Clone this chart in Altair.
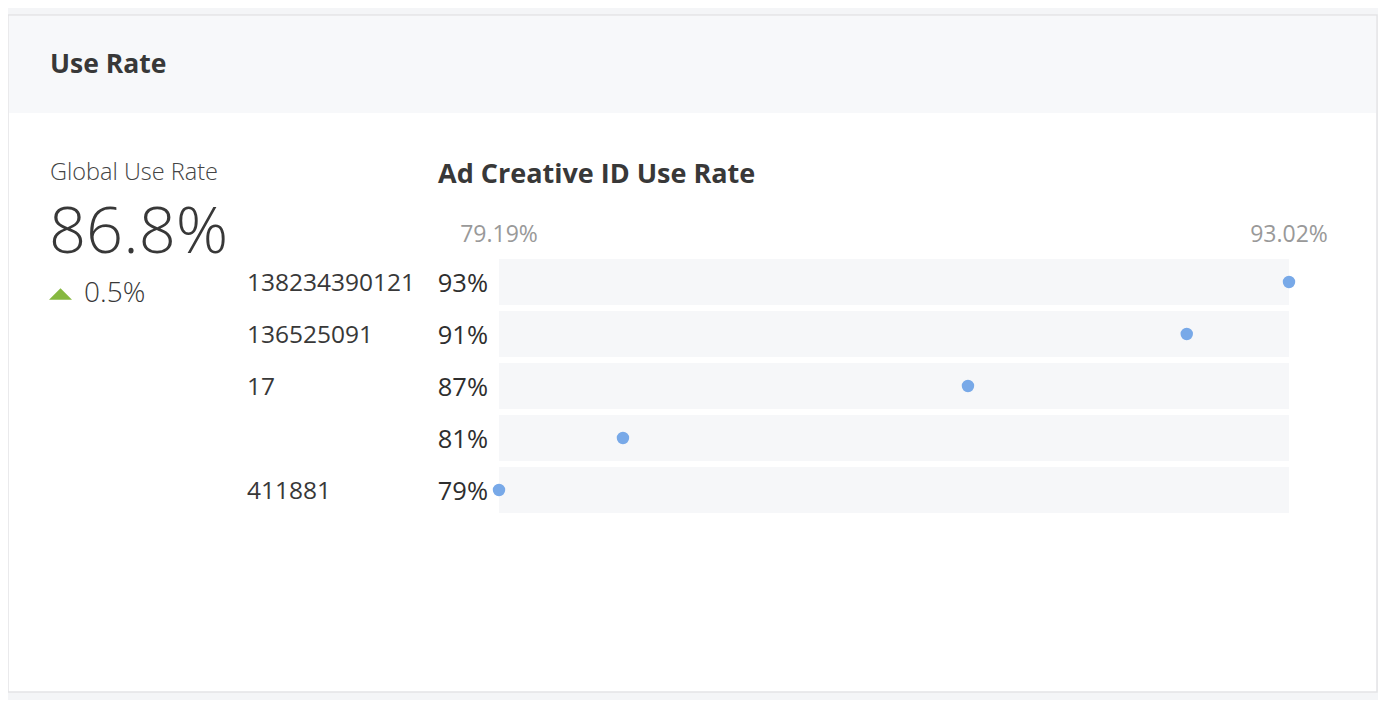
import altair as alt
import pandas as pd

# ---- data ----
ids = ["138234390121", "136525091", "17", "", "411881"]
use_rates = [93.02, 91.23, 87.40, 81.36, 79.19]
card_title = ["Use Rate"]
global_label = ["Global Use Rate"]
global_value = ["86.8%"]
global_change = ["0.5%"]
chart_title = ["Ad Creative ID Use Rate"]

FONT = "Open Sans"
TXT = "#383838"

df = pd.DataFrame({"id": ids, "value": use_rates, "rank": list(range(len(ids)))})
ext = pd.DataFrame({"value": [min(use_rates), max(use_rates)]})

xs = alt.Scale(zero=False, nice=False)
ys = alt.Scale(paddingInner=6 / 52, paddingOuter=0)

one = pd.DataFrame({"k": [0]})

card = alt.Chart(one).mark_rect(fill="white", stroke="#e3e4e6", strokeWidth=1.5).encode(
    x=alt.value(-491), x2=alt.value(878), y=alt.value(-244), y2=alt.value(433)
)
header = alt.Chart(one).mark_rect(fill="#f7f8fa").encode(
    x=alt.value(-490), x2=alt.value(877), y=alt.value(-243), y2=alt.value(-146)
)

def label(values, x, y, size, weight="normal", color=TXT, align="left", baseline="alphabetic"):
    return alt.Chart(pd.DataFrame({"t": values})).mark_text(
        font=FONT, fontSize=size, fontWeight=weight, color=color, align=align, baseline=baseline
    ).encode(text="t:N", x=alt.value(x), y=alt.value(y))

t_title = label(card_title, -449, -186, 26.5, "bold")
t_glabel = label(global_label, -449, -79, 23.5, 300, "#444444")
t_gvalue = label(global_value, -450, -6, 65, 300)
t_gchange = label(global_change, -415, 43, 28, 300)
t_ctitle = label(chart_title, -61, -76, 27, "bold")

tri = alt.Chart(one).mark_point(
    shape="M-1,0.5L1,0.5L0,-0.5Z", filled=True, color="#86b840", opacity=1, size=529
).encode(x=alt.value(-438.5), y=alt.value(35))

bars = alt.Chart(df).mark_bar(color="#f6f7f9").encode(
    y=alt.Y("rank:O", scale=ys, axis=None),
    x=alt.value(0), x2=alt.value(790),
)

id_text = alt.Chart(df).mark_text(
    font=FONT, fontSize=24.5, color=TXT, align="left", baseline="middle", dy=2
).encode(y=alt.Y("rank:O", scale=ys, axis=None), x=alt.value(-252), text="id:N")

pct_text = alt.Chart(df).transform_calculate(
    lbl="format(datum.value, '.0f') + '%'"
).mark_text(
    font=FONT, fontSize=25.5, fontWeight=500, color="#2e2e2e", align="right", baseline="middle", dy=2
).encode(y=alt.Y("rank:O", scale=ys, axis=None), x=alt.value(-11), text="lbl:N")

ext_text = alt.Chart(ext).transform_calculate(
    lbl="format(datum.value, '.2f') + '%'"
).mark_text(
    font=FONT, fontSize=23, color="#999999", align="center", baseline="alphabetic"
).encode(x=alt.X("value:Q", scale=xs, axis=None), y=alt.value(-17), text="lbl:N")

dots = alt.Chart(df).mark_circle(color="#78a9e8", opacity=1, size=154).encode(
    x=alt.X("value:Q", scale=xs, axis=None),
    y=alt.Y("rank:O", scale=ys, axis=None),
)

chart = alt.layer(
    card, header, t_title, t_glabel, t_gvalue, tri, t_gchange, t_ctitle,
    bars, id_text, pct_text, ext_text, dots
).properties(
    width=790, height=254,
    padding={"left": 491, "top": 251, "right": 89, "bottom": 187},
    autosize=alt.AutoSizeParams(type="none"),
    background="#f4f5f7",
).configure_view(stroke=None)

chart.save("out.html", embed_options={"renderer": "svg", "actions": False})
